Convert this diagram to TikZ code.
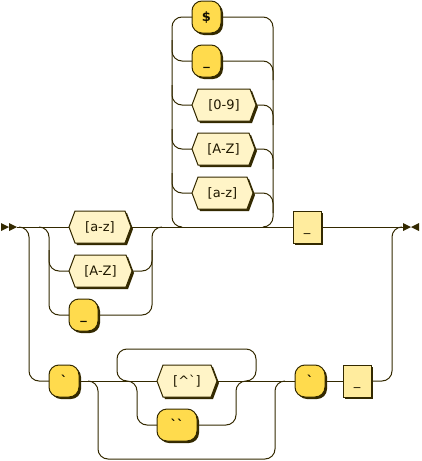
\documentclass[tikz,border=0pt]{standalone}
\usepackage{fontspec}
\newfontfamily\rrfont{DejaVu Sans}
\usetikzlibrary{shadows}
\definecolor{rrline}{HTML}{332900}
\definecolor{termfill}{HTML}{FFDB4D}
\definecolor{ntfill}{HTML}{FFEC9E}
\definecolor{rxfill}{HTML}{FFF4C7}
\definecolor{termtxt}{HTML}{141000}
\definecolor{nttxt}{HTML}{1A1400}
\definecolor{rxtxt}{HTML}{1F1800}
\tikzset{
  rr/.style={line width=1pt, draw=rrline, rounded corners=10pt},
  box/.style={inner sep=0pt, outer sep=0pt, minimum height=32pt, text height=10.5pt, text depth=2.5pt,
    font=\rrfont\fontsize{13}{15}\selectfont},
  shd/.style={drop shadow={shadow xshift=2pt, shadow yshift=-2pt, fill=rrline, opacity=1}},
  term/.style={box, shd, draw=rrline, line width=1pt, fill=termfill, rounded corners=10pt, text=termtxt,
    font=\rrfont\bfseries\fontsize{13}{15}\selectfont},
  nterm/.style={box, shd, draw=rrline, line width=1pt, fill=ntfill, text=nttxt},
  rxn/.style={box, text=rxtxt},
  arrowtip/.style={fill=rrline},
}
% name, left x, right x, centre y, text
\newcommand\rrhex[5]{%
  \fill[rrline] ({#2+2},{#4+2}) -- ({#2+8},{#4-14}) -- ({#3-4},{#4-14}) -- ({#3+2},{#4+2})
     -- ({#3-4},{#4+18}) -- ({#2+8},{#4+18}) -- cycle;
  \filldraw[fill=rxfill, draw=rrline, line width=1pt] (#2,#4) -- ({#2+6},{#4-16}) -- ({#3-6},{#4-16})
     -- (#3,#4) -- ({#3-6},{#4+16}) -- ({#2+6},{#4+16}) -- cycle;
  \node[rxn, minimum width={(#3-#2)*1pt}] (#1) at ({(#2+#3)/2},#4) {#5};
}
\begin{document}
\begin{tikzpicture}[x=1pt, y=-1pt]
\useasboundingbox (0,0) rectangle (421,461);

% start and end markers
\fill[arrowtip] (1,223) -- (9,227) -- (1,231) -- cycle;
\fill[arrowtip] (9,223) -- (17,227) -- (9,231) -- cycle;
\fill[arrowtip] (403,223) -- (411,227) -- (403,231) -- cycle;
\fill[arrowtip] (419,223) -- (411,227) -- (419,231) -- cycle;
\coordinate (start) at (17,227);
\coordinate (end) at (403,227);

% top loop items
\node[term, minimum width=29pt] (dollar) at (206.5,17) {\$};
\node[term, minimum width=29pt] (us1) at (206.5,61) {\_};
\rrhex{d09}{192}{256}{105}{[0-9]}
\rrhex{AZ1}{192}{255}{149}{[A-Z]}
\rrhex{az1}{192}{253}{193}{[a-z]}

% first choice
\rrhex{az2}{69}{131}{227}{[a-z]}
\rrhex{AZ2}{69}{132}{271}{[A-Z]}
\node[term, minimum width=29pt] (us2) at (83.5,315) {\_};

% main box
\node[nterm, minimum width=28pt] (usbox1) at (307,227) {\_};

% bottom row
\node[term, minimum width=30pt] (bt1) at (64,381) {`};
\rrhex{notbt}{157}{217}{381}{[\textasciicircum`]}
\node[term, minimum width=40pt] (btbt) at (177,425) {``};
\node[term, minimum width=30pt] (bt2) at (310,381) {`};
\node[nterm, minimum width=28pt] (usbox2) at (357,381) {\_};

% junction coordinates
\coordinate (j1) at (19,227);
\coordinate (j2) at (39,227);
\coordinate (j3) at (162,227);
\coordinate (j4) at (182,227);
\coordinate (j5) at (263,227);
\coordinate (j6) at (402,227);
\coordinate (j7) at (88,381);
\coordinate (j8) at (285,381);
\coordinate (j9) at (127,381);
\coordinate (j10) at (246,381);

% main line
\draw[rr] (start) -- (az2.west);
\draw[rr] (az2.east) -- (usbox1.west);
\draw[rr] (usbox1.east) -- (end);

% first choice branches
\draw[rr] (j2) -- (49,227) -- (49,315) -- (us2.west);
\draw[rr] (49,250) -- (49,271) -- (AZ2.west);
\draw[rr] (us2.east) -- (152,315) -- (152,227) -- (j3);
\draw[rr] (AZ2.east) -- (152,271) -- (152,250);

% top loop
\draw[rr] (j4) -- (172,227) -- (172,17) -- (dollar.west);
\draw[rr] (172,40) -- (172,61) -- (us1.west);
\draw[rr] (172,85) -- (172,105) -- (d09.west);
\draw[rr] (172,129) -- (172,149) -- (AZ1.west);
\draw[rr] (172,173) -- (172,193) -- (az1.west);
\draw[rr] (dollar.east) -- (273,17) -- (273,227) -- (j5);
\draw[rr] (us1.east) -- (273,61) -- (273,80);
\draw[rr] (d09.east) -- (273,105) -- (273,125);
\draw[rr] (AZ1.east) -- (273,149) -- (273,169);
\draw[rr] (az1.east) -- (273,193) -- (273,213);

% lower alternative
\draw[rr] (j1) -- (29,227) -- (29,381) -- (bt1.west);
\draw[rr] (usbox2.east) -- (392,381) -- (392,227) -- (j6);
\draw[rr] (bt1.east) -- (notbt.west);
\draw[rr] (notbt.east) -- (bt2.west);
\draw[rr] (bt2.east) -- (usbox2.west);
% optional bypass
\draw[rr] (j7) -- (98,381) -- (98,459) -- (275,459) -- (275,381) -- (j8);
% repetition loop
\draw[rr] (j9) -- (117,381) -- (117,349) -- (256,349) -- (256,381) -- (j10);
% inner choice
\draw[rr] (j9) -- (137,381) -- (137,425) -- (btbt.west);
\draw[rr] (btbt.east) -- (236,425) -- (236,381) -- (j10);
\end{tikzpicture}
\end{document}
